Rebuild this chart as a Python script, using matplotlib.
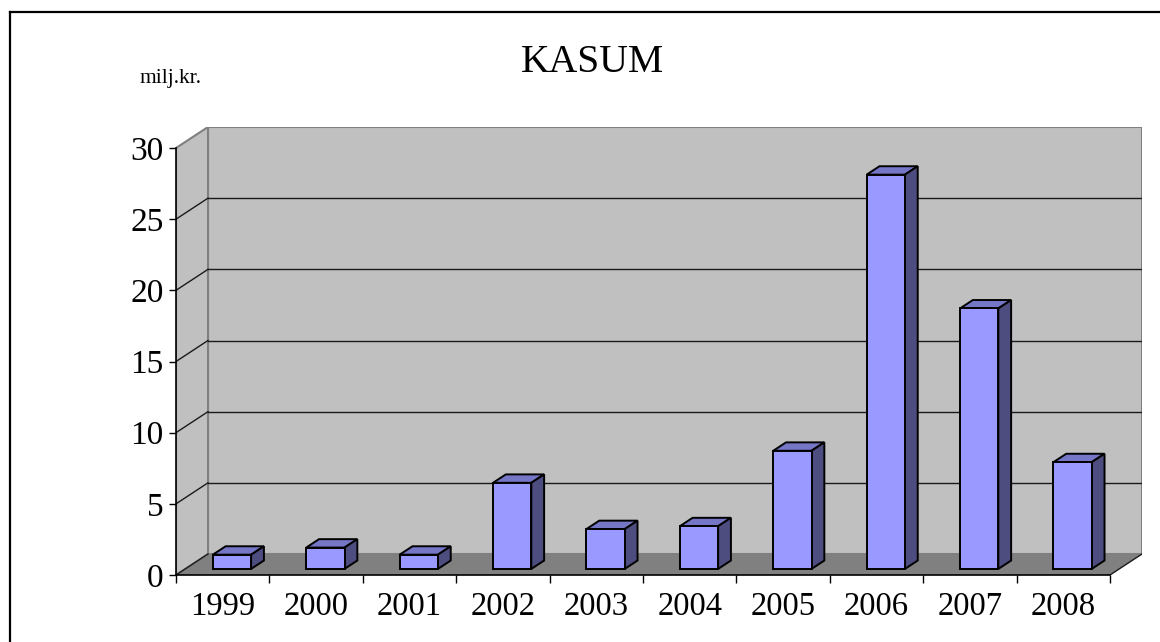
import numpy as np
import matplotlib
matplotlib.use('Agg')
import matplotlib.pyplot as plt
from matplotlib.patches import Polygon
from matplotlib.lines import Line2D

# Data
years = ['1999', '2000', '2001', '2002', '2003', '2004', '2005', '2006', '2007', '2008']
values = [1.0, 1.5, 1.0, 6.05, 2.8, 3.0, 8.3, 27.7, 18.3, 7.5]
yticks = [0, 5, 10, 15, 20, 25, 30]

plt.rcParams['font.family'] = ['Liberation Serif', 'DejaVu Serif']

W, H = 1160, 642
fig = plt.figure(figsize=(W / 100, H / 100), dpi=100)

# front plane 176..1110 px, 575..148 px ; depth offset 32 px right, 21 px up
n = len(years)
ymax = 30
px_x = (1110 - 176) / n
px_y = (575 - 148) / ymax
dxu = 32 / px_x
dyu = 21 / px_y

left = 176 / W
bottom = (H - 575) / H
ax = fig.add_axes([left, bottom, (1142 - 176) / W, (575 - 127) / H])
ax.set_xlim(0, n + dxu)
ax.set_ylim(0, ymax + dyu)
for s in ax.spines.values():
    s.set_visible(False)
ax.patch.set_visible(False)

# walls and floor
ax.add_patch(Polygon([(dxu, dyu), (n + dxu, dyu), (n + dxu, ymax + dyu), (dxu, ymax + dyu)],
                     closed=True, facecolor='#C0C0C0', edgecolor='#808080', lw=1.5, zorder=1))
ax.add_patch(Polygon([(0, 0), (dxu, dyu), (dxu, ymax + dyu), (0, ymax)],
                     closed=True, facecolor='#C0C0C0', edgecolor='#808080', lw=1.5, zorder=1))
ax.add_patch(Polygon([(0, 0), (n, 0), (n + dxu, dyu), (dxu, dyu)],
                     closed=True, facecolor='#808080', edgecolor='none', zorder=2))

# gridlines on back and side wall
for v in yticks[1:-1]:
    ax.plot([dxu, n + dxu], [v + dyu, v + dyu], color='#1a1a1a', lw=1, zorder=2)
for v in yticks[:-1]:
    ax.plot([0, dxu], [v, v + dyu], color='#1a1a1a', lw=1, zorder=2)
ax.plot([n, n + dxu], [0, dyu], color='#1a1a1a', lw=1, zorder=2)

# front axis lines
ax.plot([0, 0], [0, ymax], color='black', lw=1.2, zorder=3, clip_on=False)
ax.plot([0, n], [0, 0], color='black', lw=1.2, zorder=3, clip_on=False)

# bars with fake depth
bw = 0.41
d0 = 0.29
d1 = 0.40
x = np.arange(n) + 0.5 - bw / 2 + d0 * dxu
y0 = d0 * dyu
ax.bar(x, values, width=bw, bottom=y0, align='edge', color='#9999FF',
       edgecolor='black', lw=1.4, zorder=5)
ex, ey = d1 * dxu, d1 * dyu
for xi, v in zip(x, values):
    top = y0 + v
    ax.add_patch(Polygon([(xi, top), (xi + bw, top), (xi + bw + ex, top + ey), (xi + ex, top + ey)],
                         closed=True, facecolor='#7676C6', edgecolor='black', lw=1.4, zorder=4))
    ax.add_patch(Polygon([(xi + bw, y0), (xi + bw + ex, y0 + ey), (xi + bw + ex, top + ey), (xi + bw, top)],
                         closed=True, facecolor='#4D4D80', edgecolor='black', lw=1.4, zorder=4))

# ticks
ax.set_yticks(yticks)
ax.set_yticklabels([str(t) for t in yticks], fontsize=24)
ax.set_xticks(np.arange(n + 1))
ax.set_xticklabels([])
ax.set_xticks(np.arange(n) + 0.5, minor=True)
ax.set_xticklabels(years, minor=True, fontsize=23.5)
ax.tick_params(axis='y', direction='out', length=5, width=1, pad=4)
ax.tick_params(axis='x', which='major', direction='out', length=5.5, width=1)
ax.tick_params(axis='x', which='minor', length=0, pad=12)

# titles
fig.text(592 / W, 1 - 62 / H, 'KASUM', ha='center', va='center', fontsize=28.5)
fig.text(140 / W, 1 - 78 / H, 'milj.kr.', ha='left', va='center', fontsize=15.5)

# outer border (top and left only visible)
fig.add_artist(Line2D([10 / W, 1], [1 - 12 / H, 1 - 12 / H], transform=fig.transFigure, color='black', lw=1.6))
fig.add_artist(Line2D([10 / W, 10 / W], [0, 1 - 12 / H], transform=fig.transFigure, color='black', lw=1.6))

fig.savefig('out.png', dpi=100)
